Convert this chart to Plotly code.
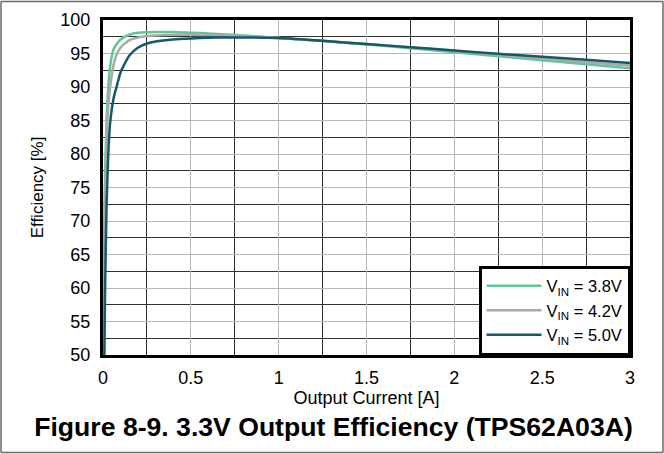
import plotly.graph_objects as go

# Output current [A] and efficiency [%] per input voltage
current_38 = [0.001, 0.005, 0.01, 0.02, 0.03, 0.04, 0.06, 0.08, 0.1, 0.15, 0.2, 0.3, 0.4, 0.5, 0.6, 0.8, 1.0, 1.25, 1.5, 1.75, 2.0, 2.25, 2.5, 2.75, 3.0]
eff_38 = [50, 62, 74, 85, 90, 93, 95.6, 96.5, 97.1, 97.8, 98.1, 98.2, 98.2, 98.1, 98.0, 97.7, 97.3, 96.85, 96.35, 95.8, 95.2, 94.6, 94.0, 93.4, 92.8]

current_42 = [0.002, 0.006, 0.012, 0.02, 0.03, 0.04, 0.06, 0.08, 0.1, 0.15, 0.2, 0.25, 0.3, 0.4, 0.5, 0.6, 0.8, 1.0, 1.25, 1.5, 1.75, 2.0, 2.25, 2.5, 2.75, 3.0]
eff_42 = [50, 62, 74, 82, 87, 89.8, 93.3, 95.0, 95.9, 97.0, 97.4, 97.6, 97.7, 97.8, 97.8, 97.75, 97.6, 97.3, 96.9, 96.4, 95.9, 95.35, 94.8, 94.25, 93.7, 93.2]

current_50 = [0.008, 0.012, 0.02, 0.03, 0.04, 0.06, 0.08, 0.1, 0.12, 0.15, 0.2, 0.25, 0.3, 0.4, 0.5, 0.6, 0.7, 0.8, 1.0, 1.25, 1.5, 1.75, 2.0, 2.25, 2.5, 2.75, 3.0]
eff_50 = [50, 60, 72, 80, 84.5, 88.3, 90.3, 92.2, 93.3, 94.7, 95.9, 96.5, 96.8, 97.1, 97.25, 97.35, 97.4, 97.4, 97.3, 96.9, 96.4, 95.95, 95.45, 94.95, 94.5, 94.05, 93.6]

series_names = ["V<sub>IN</sub> = 3.8V", "V<sub>IN</sub> = 4.2V", "V<sub>IN</sub> = 5.0V"]
series_colors = ["#5ec796", "#a9a9a9", "#13596a"]

x_ticks = [0, 0.5, 1, 1.5, 2, 2.5, 3]
x_tick_labels = ["0", "0.5", "1", "1.5", "2", "2.5", "3"]
y_ticks = [50, 55, 60, 65, 70, 75, 80, 85, 90, 95, 100]

fig = go.Figure()
for xs, ys, name, color in zip([current_38, current_42, current_50],
                               [eff_38, eff_42, eff_50],
                               series_names, series_colors):
    fig.add_trace(go.Scatter(x=xs, y=ys, mode="lines", name=name,
                             line=dict(color=color, width=2.5, shape="spline", smoothing=0.6)))

FONT = "Liberation Sans, Arial, sans-serif"
L, R, T, B = 103, 34, 20, 99
W, H = 664, 454
pw, ph = W - L - R, H - T - B


def px_x(p):
    return (p - L) / pw


def px_y(p):
    return (H - B - p) / ph


border = dict(color="#6a6a6a", width=1.5)

fig.update_layout(
    width=W, height=H,
    margin=dict(l=L, r=R, t=T, b=B, autoexpand=False),
    paper_bgcolor="white", plot_bgcolor="white",
    font=dict(family=FONT, size=18, color="black"),
    showlegend=True,
    legend=dict(x=1, y=0, xanchor="right", yanchor="bottom",
                bgcolor="white", bordercolor="black", borderwidth=2.5,
                font=dict(family=FONT, size=16.5, color="black"),
                tracegroupgap=0, itemwidth=55),
    title=dict(text="<b>Figure 8-9. 3.3V Output Efficiency (TPS62A03A)</b>",
               font=dict(family=FONT, size=26.6, color="black"),
               x=(35 + 632) / 2 / W, xref="container", xanchor="center",
               y=1 - 427 / H, yref="container", yanchor="middle"),
    xaxis=dict(range=[0, 3], tickvals=x_ticks, ticktext=x_tick_labels,
               showline=True, linecolor="black", linewidth=3, mirror=True,
               showgrid=True, gridcolor="#b8b8b8", gridwidth=1,
               minor=dict(dtick=0.25, showgrid=True, gridcolor="#303030", gridwidth=1),
               ticks="", ticklen=0, zeroline=False, automargin=False,
               ticklabelstandoff=4,
               title=dict(text="Output Current [A]", font=dict(size=18), standoff=0),
               tickfont=dict(size=18)),
    yaxis=dict(range=[50, 100], tickvals=y_ticks,
               showline=True, linecolor="black", linewidth=3, mirror=True,
               showgrid=True, gridcolor="#b8b8b8", gridwidth=1,
               minor=dict(dtick=2.5, showgrid=True, gridcolor="#303030", gridwidth=1),
               ticks="", ticklen=0, zeroline=False, automargin=False,
               ticklabelstandoff=6,
               title=dict(text="Efficiency [%]", font=dict(size=17), standoff=13),
               tickfont=dict(size=18)),
    shapes=[
        dict(type="line", xref="paper", yref="paper",
             x0=px_x(1), x1=px_x(663), y0=px_y(1.5), y1=px_y(1.5), line=border),
        dict(type="line", xref="paper", yref="paper",
             x0=px_x(1), x1=px_x(663), y0=px_y(452.5), y1=px_y(452.5), line=border),
        dict(type="line", xref="paper", yref="paper",
             x0=px_x(1), x1=px_x(1), y0=px_y(1.5), y1=px_y(452.5), line=border),
        dict(type="line", xref="paper", yref="paper",
             x0=px_x(663), x1=px_x(663), y0=px_y(1.5), y1=px_y(452.5), line=border),
    ],
)

fig.write_html("out.html",
               config={"displayModeBar": False},
               post_script="document.body.style.margin='0';document.body.style.overflow='hidden';")
